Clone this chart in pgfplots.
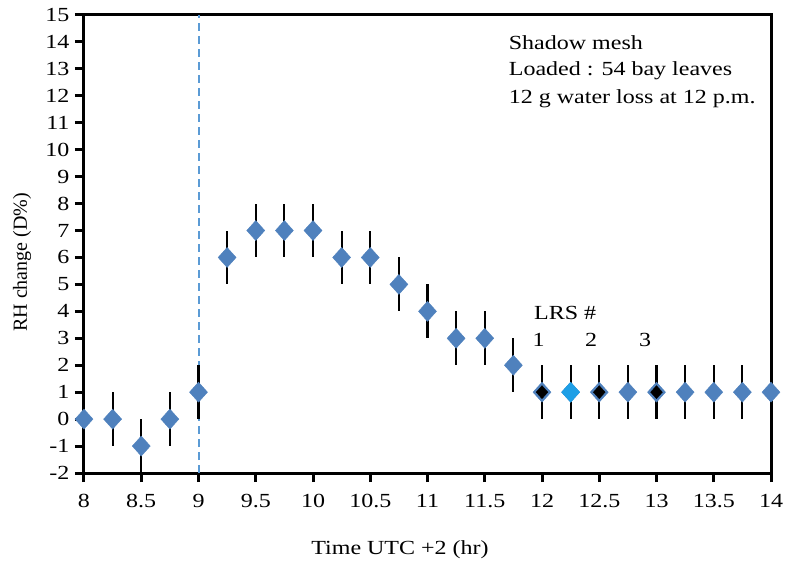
\documentclass[border=0pt]{standalone}
\usepackage{pgfplots}
\pgfplotsset{compat=1.18}
\usepackage{fontspec}
\setmainfont[FakeStretch=1.2]{Liberation Serif}
\newfontfamily\plainserif{Liberation Serif}
\definecolor{markblue}{HTML}{4F81BD}
\definecolor{lightmark}{HTML}{1E9FE6}
\definecolor{dashblue}{HTML}{5B9BD5}

% RH change readings, every quarter hour
\pgfplotstableread{
t    rh
8    0
8.25 0
8.5  -1
8.75 0
9    1
9.25 6
9.5  7
9.75 7
10   7
10.25 6
10.5 6
10.75 5
11   4
11.25 3
11.5 3
11.75 2
12   1
12.25 1
12.5 1
12.75 1
13   1
13.25 1
13.5 1
13.75 1
14   1
}\rhdata

\begin{document}
\begin{tikzpicture}
\begin{axis}[
  name=ax,
  scale only axis,
  width=687pt, height=458pt,
  xmin=8, xmax=14, ymin=-2, ymax=15,
  xtick={8,8.5,...,14},
  ytick={-2,-1,...,15},
  xtick pos=bottom, ytick pos=left,
  tick align=outside,
  major tick length=9pt,
  axis line style={line width=3pt},
  every tick/.style={line width=3pt, black},
  /pgf/number format/assume math mode=true,
  ticklabel style={font=\fontsize{20}{23}\selectfont},
  xticklabel style={yshift=-9pt},
  yticklabel style={xshift=-2pt},
  xlabel={Time UTC +2 (hr)},
  ylabel={RH change (D\%)},
  xlabel style={font=\fontsize{20}{23}\selectfont, at={(axis description cs:0.46,0)}, anchor=center, yshift=-77pt},
  ylabel style={font=\plainserif\fontsize{20}{23}\selectfont, at={(axis description cs:-0.09,0.46)}, anchor=center},
  clip=false,
]
% onset marker
\addplot[dashblue, line width=2pt, dash pattern=on 8pt off 5pt, forget plot] coordinates {(9,-2) (9,15)};
% uncertainty bars
\addplot[only marks, mark=none,
  error bars/.cd, y dir=both, y fixed=1, error mark=none,
  error bar style={black, line width=2.2pt}] table[x=t, y=rh] {\rhdata};
% readings
\addplot[only marks, mark=diamond*, mark size=10pt,
  mark options={markblue, xscale=1.2}] table[x=t, y=rh] {\rhdata};
\addplot[only marks, mark=diamond*, mark size=10pt,
  mark options={lightmark, xscale=1.2}] coordinates {(12.25,1)};
% LRS positions
\addplot[only marks, mark=diamond*, mark size=6.5pt,
  mark options={black, xscale=1.2}] coordinates {(12,1) (12.5,1) (13,1)};

\node[anchor=west, font=\fontsize{20}{23}\selectfont] at (axis cs:11.9,3.95) {LRS \#};
\node[font=\fontsize{20}{23}\selectfont] at (axis cs:11.97,2.94) {1};
\node[font=\fontsize{20}{23}\selectfont] at (axis cs:12.43,2.94) {2};
\node[font=\fontsize{20}{23}\selectfont] at (axis cs:12.9,2.94) {3};

\node[anchor=west, font=\fontsize{20}{23}\selectfont] at (axis cs:11.68,13.96) {Shadow mesh};
\node[anchor=west, font=\fontsize{20}{23}\selectfont] at (axis cs:11.68,12.92) {Loaded : 54 bay leaves};
\node[anchor=west, font=\fontsize{20}{23}\selectfont] at (axis cs:11.68,11.88) {12 g water loss at 12 p.m.};
\end{axis}
\path ([xshift=-84pt,yshift=-96pt]ax.south west) rectangle ([xshift=17pt,yshift=15pt]ax.north east);
\end{tikzpicture}
\end{document}
